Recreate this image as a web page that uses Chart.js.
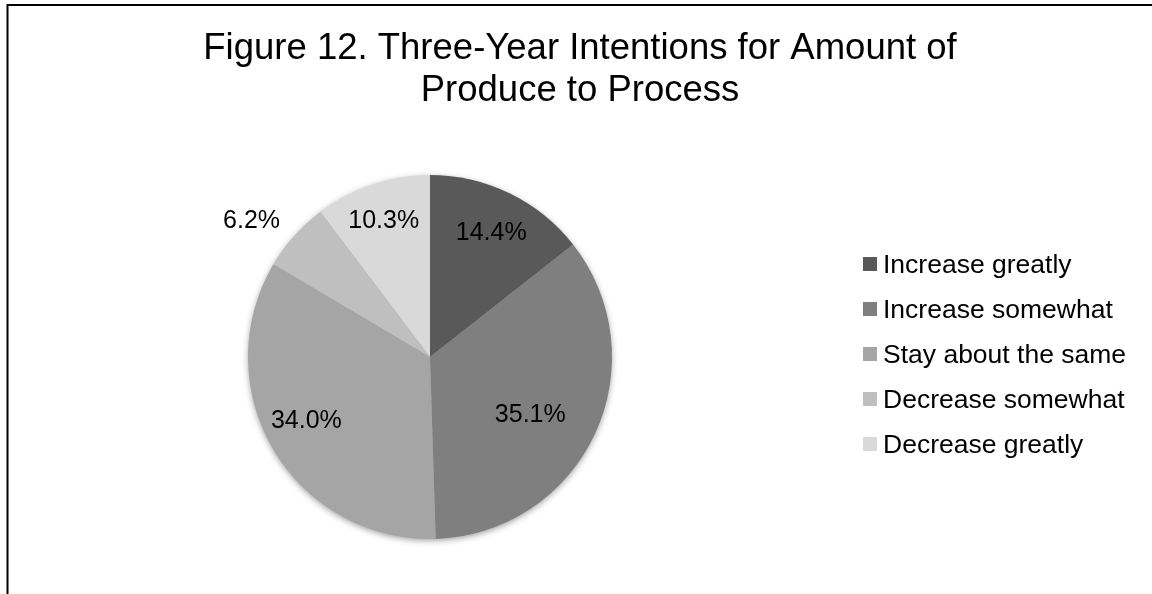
<!DOCTYPE html>
<html>
<head>
<meta charset="utf-8">
<title>Figure 12</title>
<script src="https://cdn.jsdelivr.net/npm/chart.js"></script>
<style>
  html,body{margin:0;padding:0;background:#fff;overflow:hidden;}
  canvas{display:block;}
</style>
</head>
<body>
<canvas id="chart" width="1152" height="594"></canvas>
<script>
// =====================
// DATA
// =====================

const titleLines = ["Figure 12. Three-Year Intentions for Amount of", "Produce to Process"];
const categories = ["Increase greatly", "Increase somewhat", "Stay about the same", "Decrease somewhat", "Decrease greatly"];
const shares = [14.4, 35.1, 34.0, 6.2, 10.3];
const greys = ["#595959", "#7f7f7f", "#a5a5a5", "#bfbfbf", "#d9d9d9"];

// where each percent label sits: fraction of radius, and a small turn (degrees)
const labelRadius = [0.77, 0.63, 0.76, 1.24, 0.80];
const labelTurn = [0, 4, 4, -4, 0];

const FONT = '"Liberation Sans", Arial, sans-serif';


// =====================
// PLUGINS
// =====================

// soft drop shadow under the whole pie
const pieShadow = {
  id: "pieShadow",
  beforeDatasetsDraw(chart){
    const arc = chart.getDatasetMeta(0).data[0];
    if(!arc) return;
    const {x, y, outerRadius} = arc.getProps(["x","y","outerRadius"], true);
    const ctx = chart.ctx;
    ctx.save();
    ctx.shadowColor = "rgba(0,0,0,0.45)";
    ctx.shadowBlur = 7;
    ctx.shadowOffsetY = 2;
    ctx.beginPath();
    ctx.arc(x, y, outerRadius - 1, 0, Math.PI*2);
    ctx.fillStyle = "#999";
    ctx.fill();
    ctx.restore();
  }
};

// percent labels on the slices
const sliceLabels = {
  id: "sliceLabels",
  afterDatasetsDraw(chart){
    const ctx = chart.ctx;
    ctx.save();
    ctx.font = "25px " + FONT;
    ctx.fillStyle = "#000";
    ctx.textAlign = "center";
    ctx.textBaseline = "middle";
    chart.getDatasetMeta(0).data.forEach((arc, i) => {
      const p = arc.getProps(["x","y","startAngle","endAngle","outerRadius"], true);
      const mid = (p.startAngle + p.endAngle)/2 + labelTurn[i]*Math.PI/180;
      const r = p.outerRadius * labelRadius[i];
      ctx.fillText(shares[i].toFixed(1) + "%", p.x + Math.cos(mid)*r, p.y + Math.sin(mid)*r + 2);
    });
    ctx.restore();
  }
};

// frame, title and legend
const frame = {
  id: "frame",
  afterDraw(chart){
    const ctx = chart.ctx;
    ctx.save();

    ctx.strokeStyle = "#000";
    ctx.lineWidth = 2;
    ctx.strokeRect(7.5, 5, 2000, 2000);

    ctx.fillStyle = "#000";
    ctx.textAlign = "center";
    ctx.textBaseline = "alphabetic";
    ctx.font = "36.5px " + FONT;
    titleLines.forEach((t, i) => ctx.fillText(t, 580, 59 + i*42));

    ctx.textAlign = "left";
    ctx.font = "26.5px " + FONT;
    categories.forEach((c, i) => {
      const base = 273 + i*45;
      ctx.fillStyle = greys[i];
      ctx.fillRect(863, base - 16, 14, 14);
      ctx.fillStyle = "#000";
      ctx.fillText(c, 883, base);
    });

    ctx.restore();
  }
};


// =====================
// CHART
// =====================

new Chart(document.getElementById("chart"), {
  type: "pie",
  data: {
    labels: categories,
    datasets: [{
      data: shares,
      backgroundColor: greys,
      borderWidth: 0
    }]
  },
  options: {
    responsive: false,
    animation: false,
    events: [],
    devicePixelRatio: 1,
    layout: {
      padding: {top: 175, bottom: 55, left: 248, right: 540}
    },
    plugins: {
      legend: {display: false},
      title: {display: false},
      tooltip: {enabled: false}
    }
  },
  plugins: [pieShadow, sliceLabels, frame]
});
</script>
</body>
</html>
